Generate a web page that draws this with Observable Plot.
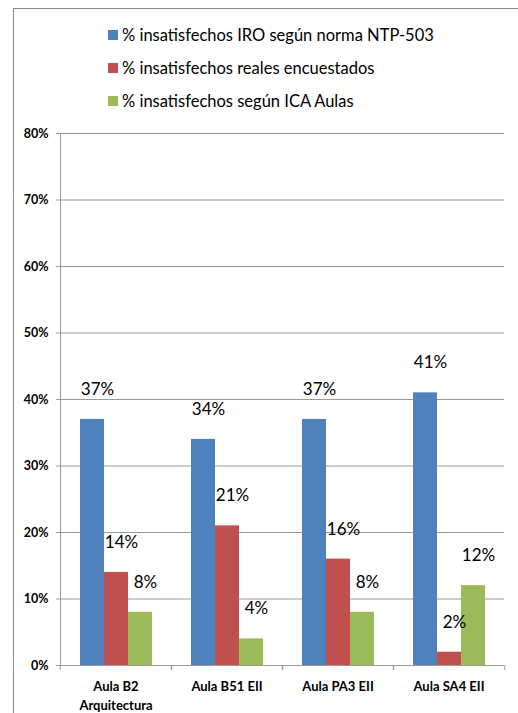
<!DOCTYPE html>
<html>
<head>
<meta charset="utf-8">
<script src="https://cdn.jsdelivr.net/npm/d3@7"></script>
<script src="https://cdn.jsdelivr.net/npm/@observablehq/plot@0.6"></script>
<style>
  html, body { margin: 0; padding: 0; background: #fff; }
  #wrap { position: relative; width: 518px; height: 713px; overflow: hidden; font-family: Lato, "Open Sans", sans-serif; }
  #frame { position: absolute; left: 13px; top: 8px; width: 520px; height: 720px; border-top: 1px solid #8a8a8a; border-left: 1px solid #8a8a8a; }
  #legend { position: absolute; left: 108px; top: 18px; }
  .item { display: flex; align-items: center; height: 33.3px; font-size: 16.5px; color: #000; }
  .sw { width: 10px; height: 10px; margin-right: 4px; }
  #chart { position: absolute; left: 0; top: 120px; }
</style>
</head>
<body>
<div id="wrap">
  <div id="frame"></div>
  <div id="legend"></div>
  <div id="chart"></div>
</div>
<script>
const categories = ["Aula B2 Arquitectura", "Aula B51 EII", "Aula PA3 EII", "Aula SA4 EII"];
const categoryLabels = ["Aula B2\nArquitectura", "Aula B51 EII", "Aula PA3 EII", "Aula SA4 EII"];
const series = [
  "% insatisfechos IRO según norma NTP-503",
  "% insatisfechos reales encuestados",
  "% insatisfechos según ICA Aulas"
];
const iroNTP503 = [37, 34, 37, 41];
const realesEncuestados = [14, 21, 16, 2];
const icaAulas = [8, 4, 8, 12];
const yTicks = [0, 10, 20, 30, 40, 50, 60, 70, 80];
const colors = ["#4F81BD", "#C0504D", "#9BBB59"];

const seriesValues = [iroNTP503, realesEncuestados, icaAulas];
const table = [];
categories.forEach((c, i) => {
  series.forEach((s, j) => table.push({cat: c, series: s, value: seriesValues[j][i]}));
});

// legend
const legend = document.getElementById("legend");
series.forEach((s, j) => {
  const row = document.createElement("div");
  row.className = "item";
  const sw = document.createElement("span");
  sw.className = "sw";
  sw.style.background = colors[j];
  const t = document.createElement("span");
  t.textContent = s;
  row.appendChild(sw); row.appendChild(t);
  legend.appendChild(row);
});

const W = 518, H = 593, mL = 59, mR = 13, mT = 13, mB = 48;
const half = (W - mL - mR) / categories.length / 2;
const labelOf = new Map(categories.map((c, i) => [c, categoryLabels[i]]));

const chart = Plot.plot({
  width: W, height: H,
  marginLeft: mL, marginRight: mR, marginTop: mT, marginBottom: mB,
  style: {fontFamily: "Lato, 'Open Sans', sans-serif", color: "#000", background: "transparent"},
  fx: {domain: categories, padding: 0, label: null, axis: null},
  x: {domain: series, paddingInner: 0, paddingOuter: 0.75, axis: null},
  y: {domain: [0, 80], axis: null},
  color: {domain: series, range: colors},
  marks: [
    Plot.ruleY(yTicks, {y: d => d, stroke: "#9a9a9a", strokeWidth: 1}),
    Plot.barY(table, {fx: "cat", x: "series", y: "value", fill: "series"}),
    Plot.text(table, {fx: "cat", x: "series", y: "value", text: d => d.value + "%", dy: -30, dx: 5, fontSize: 17, fill: "#000"}),
    Plot.axisY({ticks: yTicks, tickFormat: d => d + "%", tickSize: 4, tickPadding: 8, fontSize: 12.5, fontWeight: "bold", stroke: "#9a9a9a", color: "#000", label: null}),
    Plot.axisFx({anchor: "bottom", tickSize: 5, text: null, dx: half, stroke: "#9a9a9a", label: null}),
    Plot.axisFx({anchor: "bottom", tickSize: 5, text: null, dx: -half, stroke: "#9a9a9a", label: null}),
    Plot.axisFx({anchor: "bottom", tickSize: 0, tickPadding: 13, fontSize: 13, fontWeight: "bold", tickFormat: d => labelOf.get(d), lineHeight: 1.4, label: null, fill: "#000"}),
    Plot.frame({anchor: "left", facetAnchor: "left", stroke: "#9a9a9a"})
  ]
});
document.getElementById("chart").appendChild(chart);
</script>
</body>
</html>
